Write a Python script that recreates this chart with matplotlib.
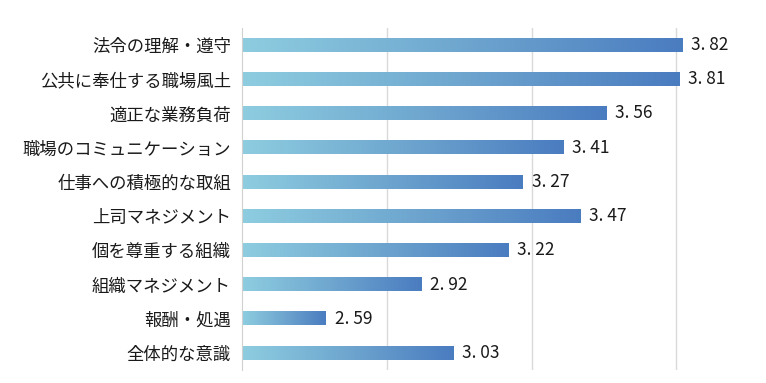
import numpy as np
import matplotlib
matplotlib.use("Agg")
import matplotlib.pyplot as plt
from matplotlib.colors import LinearSegmentedColormap

plt.rcParams["font.family"] = ["Noto Sans CJK JP", "DejaVu Sans"]

categories = [
    "法令の理解・遵守",
    "公共に奉仕する職場風土",
    "適正な業務負荷",
    "職場のコミュニケーション",
    "仕事への積極的な取組",
    "上司マネジメント",
    "個を尊重する組織",
    "組織マネジメント",
    "報酬・処遇",
    "全体的な意識",
]
scores = [3.82, 3.81, 3.56, 3.41, 3.27, 3.47, 3.22, 2.92, 2.59, 3.03]

X_MIN, X_MAX = 2.3, 4.11
BAR_H = 0.39

cmap = LinearSegmentedColormap.from_list("bar", ["#8ecde0", "#6ea6cf", "#4a7cc0"])
grad = np.linspace(0, 1, 256).reshape(1, -1)

fig = plt.figure(figsize=(7.66, 3.83), dpi=100)
ax = fig.add_axes([242 / 766, 1 - 370 / 383, 1 - 242 / 766, (370 - 28) / 383])

n = len(categories)
ys = np.arange(n)
for y, v in zip(ys, scores):
    ax.imshow(grad, cmap=cmap, aspect="auto", interpolation="bicubic",
              extent=[X_MIN, v, y + BAR_H / 2, y - BAR_H / 2], zorder=2)
    # half-width digits in the original leave a gap after the period
    label = f"{v:.2f}".replace(".", ". ")
    ax.text(v + 0.03, y, label, va="center", ha="left", fontsize=12.5,
            color="#1a1a1a")

ax.set_xlim(X_MIN, X_MAX)
ax.set_ylim(n - 0.5, -0.5)
ax.set_xticks([2.8, 3.3, 3.8])
ax.set_xticklabels([])
ax.tick_params(axis="x", length=0)
ax.set_yticks(ys)
ax.set_yticklabels(categories, fontsize=12.5, color="#1a1a1a")
ax.tick_params(axis="y", length=0, pad=8)
ax.grid(axis="x", color="#d9d9d9", lw=1, zorder=0)
for s in ["top", "right", "bottom"]:
    ax.spines[s].set_visible(False)
ax.spines["left"].set_color("#d0d0d0")
ax.set_axisbelow(True)

fig.savefig("out.png", dpi=100)
